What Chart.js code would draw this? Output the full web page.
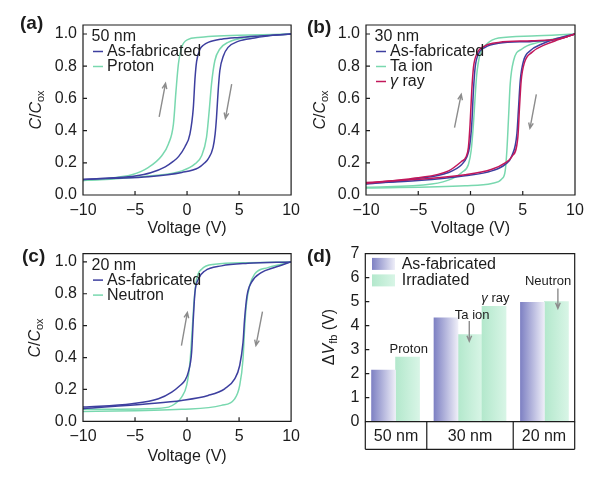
<!DOCTYPE html>
<html>
<head>
<meta charset="utf-8">
<script src="https://cdn.jsdelivr.net/npm/chart.js@4.4.1/dist/chart.umd.min.js"></script>
<style>
body { margin: 0; background: #fff; }
#fig { position: relative; width: 613px; height: 477px; }
.panel { position: absolute; }
</style>
</head>
<body>
<div id="fig">
  <div class="panel" style="left:0;top:0"><canvas id="ca" width="306" height="238"></canvas></div>
  <div class="panel" style="left:306px;top:0"><canvas id="cb" width="307" height="238"></canvas></div>
  <div class="panel" style="left:0;top:238px"><canvas id="cc" width="306" height="239"></canvas></div>
  <div class="panel" style="left:306px;top:238px"><canvas id="cd" width="307" height="239"></canvas></div>
</div>
<script>
// axis ticks
const voltTicks = [-10, -5, 0, 5, 10];
const capTicks = [0, 0.2, 0.4, 0.6, 0.8, 1.0];
const shiftTicks = [0, 1, 2, 3, 4, 5, 6, 7];

// (a) 50 nm, [V, C/Cox], up = left branch, down = right branch
const a50AsFabUp = [[-10,0.097],[-7,0.107],[-5,0.118],[-3.5,0.138],[-2.1,0.175],[-1.3,0.21],[-0.8,0.24],[-0.2,0.3],[0.28,0.38],[0.6,0.54],[0.76,0.72],[0.92,0.83],[1.24,0.905],[1.6,0.932],[2.03,0.948],[3.3,0.968],[5,0.979],[7,0.988],[10,1.0]];
const a50AsFabDown = [[-10,0.097],[-7,0.104],[-3.7,0.114],[-0.5,0.14],[1.08,0.168],[1.7,0.2],[2.03,0.224],[2.5,0.296],[2.7,0.38],[2.83,0.48],[2.99,0.648],[3.15,0.772],[3.5,0.865],[3.94,0.917],[4.9,0.954],[6.5,0.975],[8,0.99],[10,1.0]];
const a50ProtonUp = [[-10,0.09],[-8,0.1],[-6.5,0.112],[-5.3,0.126],[-3.7,0.172],[-2.43,0.244],[-1.79,0.317],[-1.31,0.44],[-1.06,0.648],[-0.83,0.814],[-0.52,0.917],[0.12,0.967],[1,0.978],[2.03,0.985],[5,0.992],[10,1.0]];
const a50ProtonDown = [[-10,0.09],[-7,0.1],[-3.7,0.118],[-0.5,0.15],[0.76,0.193],[1.4,0.244],[1.87,0.358],[2.13,0.524],[2.35,0.689],[2.67,0.834],[3.15,0.907],[3.94,0.948],[5.85,0.98],[8,0.992],[10,1.0]];

// (b) 30 nm
const b30AsFabUp = [[-10,0.068],[-5.3,0.1],[-2.1,0.14],[-0.83,0.19],[-0.36,0.234],[-0.1,0.296],[0.12,0.44],[0.28,0.648],[0.44,0.79],[0.76,0.876],[1.4,0.917],[2.68,0.942],[5.87,0.954],[8.43,0.969],[10,1.0]];
const b30AsFabDown = [[-10,0.072],[-5,0.09],[-0.52,0.12],[2.04,0.15],[3.32,0.19],[3.96,0.244],[4.44,0.38],[4.6,0.545],[4.76,0.71],[5.08,0.834],[5.71,0.896],[6.83,0.938],[8.1,0.969],[10,1.0]];
const b30TaUp = [[-10,0.048],[-3.71,0.068],[-1.79,0.1],[-0.83,0.14],[-0.2,0.19],[0.06,0.275],[0.28,0.44],[0.44,0.607],[0.6,0.75],[0.92,0.876],[1.56,0.938],[2.68,0.975],[5.87,0.988],[10,1.0]];
const b30TaDown = [[-10,0.043],[-0.52,0.058],[2.04,0.072],[3.0,0.1],[3.32,0.15],[3.48,0.275],[3.64,0.48],[3.8,0.69],[4.12,0.834],[4.92,0.907],[6.5,0.948],[8.1,0.97],[10,1.0]];
const b30GammaUp = [[-10,0.072],[-5.3,0.105],[-2.1,0.15],[-0.83,0.21],[-0.45,0.234],[-0.2,0.296],[-0.04,0.44],[0.12,0.648],[0.28,0.79],[0.6,0.876],[1.4,0.927],[2.68,0.948],[5.87,0.958],[8.43,0.969],[10,1.0]];
const b30GammaDown = [[-10,0.077],[-0.52,0.126],[2.04,0.16],[3.32,0.2],[3.96,0.238],[4.53,0.358],[4.69,0.545],[4.85,0.71],[5.17,0.824],[5.87,0.886],[7.15,0.934],[8.43,0.965],[10,1.0]];

// (c) 20 nm
const c20AsFabUp = [[-10,0.089],[-5.29,0.11],[-2.75,0.141],[-1.47,0.183],[-0.67,0.225],[-0.2,0.256],[0.12,0.308],[0.44,0.433],[0.6,0.641],[0.76,0.808],[1.08,0.891],[1.71,0.943],[3.31,0.975],[5.85,0.991],[10,1.0]];
const c20AsFabDown = [[-10,0.079],[-3.7,0.11],[-0.52,0.131],[2.03,0.162],[3.62,0.204],[4.58,0.266],[5.06,0.35],[5.38,0.495],[5.53,0.641],[5.76,0.787],[6.17,0.87],[7.13,0.933],[8.4,0.965],[10,1.0]];
const c20NeutronUp = [[-10,0.075],[-3.7,0.079],[-1.79,0.089],[-1.15,0.11],[-0.52,0.152],[-0.04,0.225],[0.28,0.37],[0.5,0.579],[0.69,0.766],[0.92,0.891],[1.4,0.954],[2.67,0.985],[5.85,0.995],[10,1.0]];
const c20NeutronDown = [[-10,0.062],[-0.52,0.075],[3.3,0.1],[4.58,0.141],[5.06,0.225],[5.38,0.391],[5.53,0.579],[5.69,0.725],[6.01,0.85],[6.49,0.923],[7.76,0.964],[9.04,0.985],[10,1.0]];

// (d) flat-band voltage shift
const groups = ['50 nm', '30 nm', '20 nm'];
const asFabricated = [2.15, 4.33, 4.97];
const irradiated = [[2.69], [3.63, 4.80], [5.00]];
const irradiatedLabels = [['Proton'], ['Ta ion', 'γ ray'], ['Neutron']];

const FONT = '"Liberation Sans", Arial, Helvetica, sans-serif';
const INK = '#1c1c1c';
const BLUE = '#3d3f9f';
const GREEN = '#79d8af';
const RED = '#c2185b';
const GREY = '#8c8c8c';

Chart.defaults.font.family = FONT;
Chart.defaults.font.size = 16;
Chart.defaults.color = INK;

function rich(ctx, parts, x, y, rot, align) {
  ctx.save();
  ctx.translate(x, y);
  ctx.rotate(rot || 0);
  ctx.textBaseline = 'middle';
  ctx.fillStyle = INK;
  const fontOf = p => (p.it ? 'italic ' : '') + (p.bold ? 'bold ' : '') + (p.sub ? 11 : (p.size || 16)) + 'px ' + FONT;
  let w = 0;
  parts.forEach(p => { ctx.font = fontOf(p); w += ctx.measureText(p.t).width; });
  let cx = align === 'center' ? -w / 2 : 0;
  parts.forEach(p => {
    ctx.font = fontOf(p);
    ctx.fillText(p.t, cx, p.sub ? 4 : 0);
    cx += ctx.measureText(p.t).width;
  });
  ctx.restore();
}

function arrow(ctx, x1, y1, x2, y2) {
  const a = Math.atan2(y2 - y1, x2 - x1), h = 6;
  ctx.beginPath();
  ctx.moveTo(x1, y1);
  ctx.lineTo(x2, y2);
  ctx.moveTo(x2 - h * Math.cos(a - 0.4), y2 - h * Math.sin(a - 0.4));
  ctx.lineTo(x2, y2);
  ctx.lineTo(x2 - h * Math.cos(a + 0.4), y2 - h * Math.sin(a + 0.4));
  ctx.stroke();
}

function frameAndTicks(ctx, ca, x, y, xt, yt) {
  ctx.strokeStyle = INK;
  ctx.lineWidth = 1.2;
  ctx.beginPath();
  ctx.moveTo(ca.left, ca.top);
  ctx.lineTo(ca.right, ca.top);
  ctx.lineTo(ca.right, ca.bottom);
  ctx.lineTo(ca.left, ca.bottom);
  ctx.closePath();
  xt.forEach(v => { const px = x.getPixelForValue(v); ctx.moveTo(px, ca.bottom); ctx.lineTo(px, ca.bottom - 4); });
  yt.forEach(v => { const py = y.getPixelForValue(v); ctx.moveTo(ca.left, py); ctx.lineTo(ca.left + 4, py); });
  ctx.stroke();
}

function branch(points, color) {
  return {
    data: points.map(([x, y]) => ({x, y})),
    borderColor: color,
    borderWidth: 1.5,
    pointRadius: 0,
    fill: false,
    cubicInterpolationMode: 'monotone'
  };
}

function cvPanel(id, p) {
  const datasets = [];
  p.series.forEach(s => {
    datasets.push(branch(s.up, s.color));
    datasets.push(branch(s.down, s.color));
  });
  const decor = {
    id: 'cvDecor',
    afterDatasetsDraw(chart) {
      const {ctx, chartArea: ca, scales: {x, y}} = chart;
      ctx.save();
      frameAndTicks(ctx, ca, x, y, voltTicks, capTicks);
      ctx.strokeStyle = GREY;
      ctx.lineWidth = 1.4;
      p.arrows.forEach(([x1, y1, x2, y2]) =>
        arrow(ctx, x.getPixelForValue(x1), y.getPixelForValue(y1), x.getPixelForValue(x2), y.getPixelForValue(y2)));
      let ly = ca.top + 11.5;
      rich(ctx, [{t: p.thick}], ca.left + 8.5, ly);
      p.legend.forEach(s => {
        ly += 15;
        ctx.strokeStyle = s.color;
        ctx.lineWidth = 1.5;
        ctx.beginPath();
        ctx.moveTo(ca.left + 10, ly);
        ctx.lineTo(ca.left + 20, ly);
        ctx.stroke();
        rich(ctx, s.name, ca.left + 24, ly);
      });
      rich(ctx, [{t: 'C', it: true}, {t: '/'}, {t: 'C', it: true}, {t: 'ox', sub: true}], p.yTitle[0], p.yTitle[1], -Math.PI / 2, 'center');
      rich(ctx, [{t: p.label, bold: true, size: 19}], p.labelPos[0], p.labelPos[1]);
      ctx.restore();
    }
  };
  return new Chart(document.getElementById(id), {
    type: 'line',
    data: {datasets},
    options: {
      responsive: false,
      animation: false,
      layout: {padding: {left: 0, right: p.padRight, top: p.padTop, bottom: 0}},
      plugins: {legend: {display: false}, tooltip: {enabled: false}},
      scales: {
        x: {
          type: 'linear', min: -10, max: 10,
          afterBuildTicks: s => { s.ticks = voltTicks.map(v => ({value: v})); },
          afterFit: s => { s.height = p.xHeight; },
          grid: {display: false, drawTicks: false},
          border: {display: false},
          ticks: {padding: 6, maxRotation: 0, autoSkip: false, callback: v => v < 0 ? '\u2212' + Math.abs(v) : String(v)},
          title: {display: true, text: 'Voltage (V)', font: {size: 16}, padding: {top: 0, bottom: p.titlePad}}
        },
        y: {
          type: 'linear', min: 0, max: p.yMax,
          afterBuildTicks: s => { s.ticks = capTicks.map(v => ({value: v})); },
          afterFit: s => { s.width = p.yWidth; },
          grid: {display: false, drawTicks: false},
          border: {display: false},
          ticks: {padding: 6, callback: v => v.toFixed(1)}
        }
      }
    },
    plugins: [decor]
  });
}

const blueA = {name: [{t: 'As-fabricated'}], color: BLUE};

cvPanel('ca', {
  label: '(a)', labelPos: [20, 24], yTitle: [37, 110], thick: '50 nm',
  yWidth: 83, padRight: 14, padTop: 25, xHeight: 43, titlePad: 0, yMax: 1.056,
  series: [
    {up: a50AsFabUp, down: a50AsFabDown, color: BLUE},
    {up: a50ProtonUp, down: a50ProtonDown, color: GREEN}
  ],
  legend: [blueA, {name: [{t: 'Proton'}], color: GREEN}],
  arrows: [[-2.68, 0.486, -2.07, 0.694], [4.29, 0.689, 3.69, 0.476]]
});

cvPanel('cb', {
  label: '(b)', labelPos: [1, 28], yTitle: [15, 110], thick: '30 nm',
  yWidth: 60, padRight: 38, padTop: 25, xHeight: 43, titlePad: 0, yMax: 1.056,
  series: [
    {up: b30GammaUp, down: b30GammaDown, color: RED},
    {up: b30AsFabUp, down: b30AsFabDown, color: BLUE},
    {up: b30TaUp, down: b30TaDown, color: GREEN}
  ],
  legend: [blueA, {name: [{t: 'Ta ion'}], color: GREEN}, {name: [{t: 'γ', it: true}, {t: ' ray'}], color: RED}],
  arrows: [[-1.53, 0.418, -0.89, 0.625], [6.30, 0.625, 5.69, 0.414]]
});

cvPanel('cc', {
  label: '(c)', labelPos: [22, 18.5], yTitle: [36, 100], thick: '20 nm',
  yWidth: 83, padRight: 14, padTop: 15, xHeight: 55.7, titlePad: 11, yMax: 1.052,
  series: [
    {up: c20AsFabUp, down: c20AsFabDown, color: BLUE},
    {up: c20NeutronUp, down: c20NeutronDown, color: GREEN}
  ],
  legend: [blueA, {name: [{t: 'Neutron'}], color: GREEN}],
  arrows: [[-0.54, 0.475, 0.03, 0.683], [7.25, 0.688, 6.62, 0.475]]
});

// (d) bar positions: one slot per bar, with a gap between thickness groups
const GAP = 0.6, LEAD = 0.76;
const fabPts = [], irrPts = [], notes = [], bounds = [0];
let slot = 0;
groups.forEach((g, gi) => {
  const off = LEAD + gi * GAP;
  if (gi > 0) bounds.push(off + slot - 0.5 - GAP / 2);
  fabPts.push({x: off + slot, y: asFabricated[gi]});
  slot++;
  irradiated[gi].forEach((v, k) => {
    irrPts.push({x: off + slot, y: v});
    notes.push({x: off + slot, y: v, text: irradiatedLabels[gi][k]});
    slot++;
  });
});
const xMax = LEAD + (groups.length - 1) * GAP + slot - 1 + 0.5 + 0.26;
bounds.push(xMax);

function barFill(c0, c1) {
  return c => {
    const chart = c.chart, xs = chart.scales.x;
    if (!xs || !c.raw) return c0;
    const half = (xs.getPixelForValue(1) - xs.getPixelForValue(0)) / 2;
    const px = xs.getPixelForValue(c.raw.x);
    if (!isFinite(px) || !isFinite(half)) return c0;
    const g = chart.ctx.createLinearGradient(px - half, 0, px + half, 0);
    g.addColorStop(0, c0);
    g.addColorStop(1, c1);
    return g;
  };
}
const FAB0 = '#7e81c3', FAB1 = '#eeeef8', IRR0 = '#b3e8cc', IRR1 = '#d8f5e6';

// label placement relative to its bar: [dx, dy of text, arrow top, arrow bottom]
const notePlace = {
  'Proton': [0.05, 0.34],
  'Ta ion': [0.09, 0.78, 0.56, -0.28],
  'γ ray': [0.06, 0.32],
  'Neutron': [-0.35, 0.85, 0.55, -0.28]
};

const barDecor = {
  id: 'barDecor',
  afterDatasetsDraw(chart) {
    const {ctx, chartArea: ca, scales: {x, y}} = chart;
    ctx.save();
    frameAndTicks(ctx, ca, x, y, [], shiftTicks);
    const boxB = ca.bottom + 27.6;
    ctx.beginPath();
    bounds.forEach(b => { const px = x.getPixelForValue(b); ctx.moveTo(px, ca.bottom); ctx.lineTo(px, boxB); });
    ctx.moveTo(ca.left, boxB);
    ctx.lineTo(ca.right, boxB);
    ctx.stroke();
    groups.forEach((g, i) => {
      const cx = (x.getPixelForValue(bounds[i]) + x.getPixelForValue(bounds[i + 1])) / 2;
      rich(ctx, [{t: g}], cx, ca.bottom + 14.6, 0, 'center');
    });
    // legend
    [['As-fabricated', FAB0, FAB1], ['Irradiated', IRR0, IRR1]].forEach(([name, c0, c1], i) => {
      const top = ca.top + 4.3 + i * 16.5;
      const g = ctx.createLinearGradient(ca.left + 6.7, 0, ca.left + 29.7, 0);
      g.addColorStop(0, c0);
      g.addColorStop(1, c1);
      ctx.fillStyle = g;
      ctx.fillRect(ca.left + 6.7, top, 23, 12);
      rich(ctx, [{t: name}], ca.left + 36.4, top + 6.3);
    });
    // annotations
    ctx.strokeStyle = GREY;
    ctx.lineWidth = 1.4;
    notes.forEach(n => {
      const pl = notePlace[n.text];
      const parts = n.text === 'γ ray' ? [{t: 'γ', it: true, size: 13}, {t: ' ray', size: 13}] : [{t: n.text, size: 13}];
      rich(ctx, parts, x.getPixelForValue(n.x + pl[0]), y.getPixelForValue(n.y + pl[1]), 0, 'center');
      if (pl.length > 2) {
        const ax = x.getPixelForValue(n.x + (n.text === 'Neutron' ? 0.06 : -0.03));
        arrow(ctx, ax, y.getPixelForValue(n.y + pl[2]), ax, y.getPixelForValue(n.y + pl[3]));
      }
    });
    rich(ctx, [{t: 'Δ'}, {t: 'V', it: true}, {t: 'fb', sub: true}, {t: ' (V)'}], 24, 99, -Math.PI / 2, 'center');
    rich(ctx, [{t: '(d)', bold: true, size: 19}], 1, 19);
    ctx.restore();
  }
};

new Chart(document.getElementById('cd'), {
  type: 'bar',
  data: {
    datasets: [
      {label: 'As-fabricated', data: fabPts, backgroundColor: barFill(FAB0, FAB1), grouped: false, categoryPercentage: 1, barPercentage: 1, borderWidth: 0},
      {label: 'Irradiated', data: irrPts, backgroundColor: barFill(IRR0, IRR1), grouped: false, categoryPercentage: 1, barPercentage: 1, borderWidth: 0}
    ]
  },
  options: {
    responsive: false,
    animation: false,
    layout: {padding: {left: 0, right: 38.3, top: 15, bottom: 0}},
    plugins: {legend: {display: false}, tooltip: {enabled: false}},
    scales: {
      x: {
        type: 'linear', min: 0, max: xMax, offset: false,
        afterBuildTicks: s => { s.ticks = bounds.map(v => ({value: v})); },
        afterFit: s => { s.height = 55.3; },
        grid: {display: false, drawTicks: false, offset: false},
        border: {display: false},
        ticks: {display: false}
      },
      y: {
        type: 'linear', min: 0, max: 7,
        afterBuildTicks: s => { s.ticks = shiftTicks.map(v => ({value: v})); },
        afterFit: s => { s.width = 59.3; },
        grid: {display: false, drawTicks: false},
        border: {display: false},
        ticks: {padding: 6, callback: v => String(v)}
      }
    }
  },
  plugins: [barDecor]
});
</script>
</body>
</html>
